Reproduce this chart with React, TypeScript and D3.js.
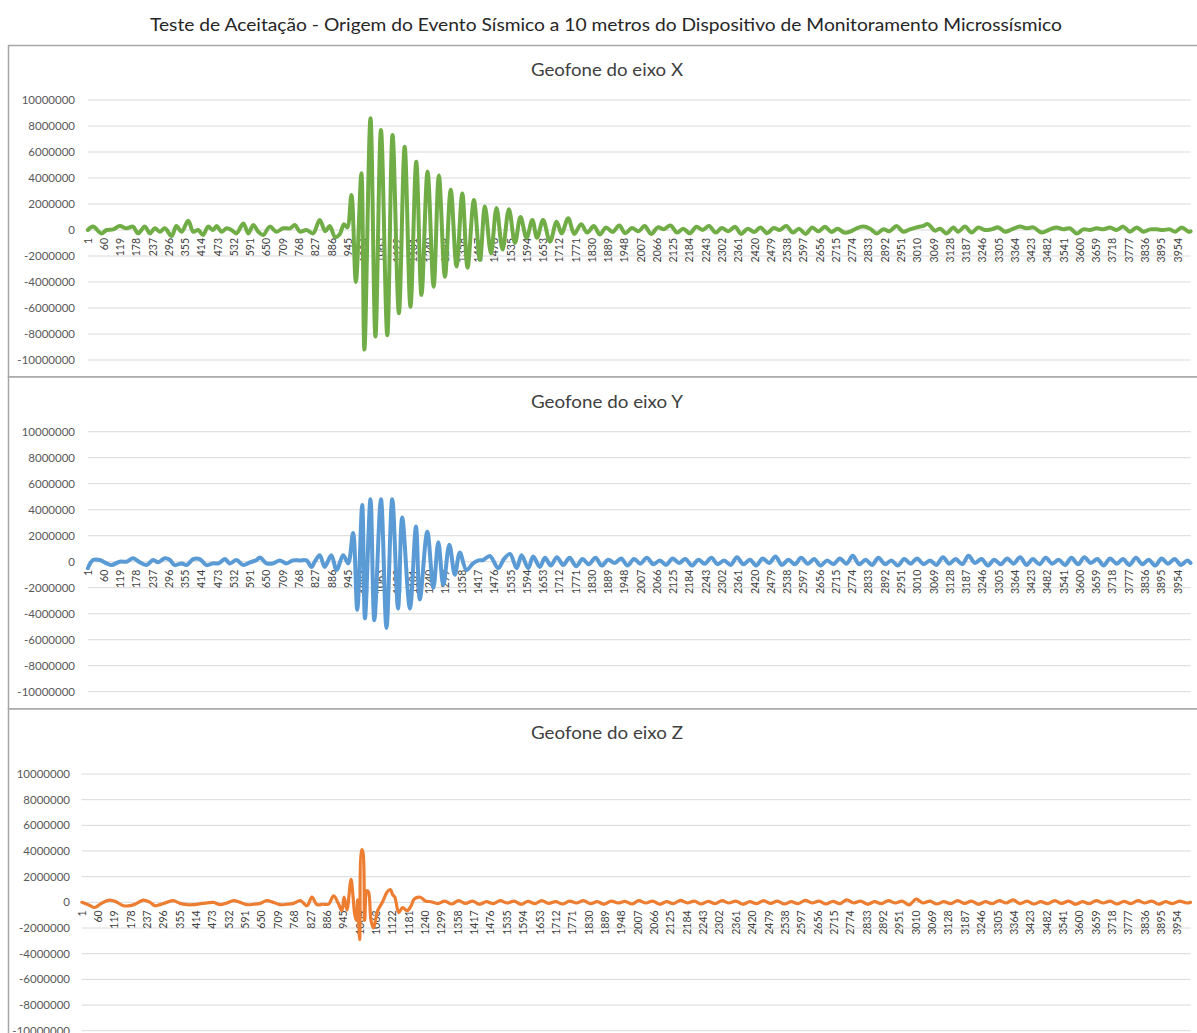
import * as d3 from "d3";

const WIDTH = 1197;
const HEIGHT = 1033;
const MILLION = 1000000;

const chartTitle =
  "Teste de Aceitação - Origem do Evento Sísmico a 10 metros do Dispositivo de Monitoramento Microssísmico";
const panelTitles = ["Geofone do eixo X", "Geofone do eixo Y", "Geofone do eixo Z"];
const sampleCount = 4000;

const categoryLabels = [
  "1", "60", "119", "178", "237", "296", "355", "414", "473", "532", "591", "650", "709", "768",
  "827", "886", "945", "1004", "1063", "1122", "1181", "1240", "1299", "1358", "1417", "1476",
  "1535", "1594", "1653", "1712", "1771", "1830", "1889", "1948", "2007", "2066", "2125", "2184",
  "2243", "2302", "2361", "2420", "2479", "2538", "2597", "2656", "2715", "2774", "2833", "2892",
  "2951", "3010", "3069", "3128", "3187", "3246", "3305", "3364", "3423", "3482", "3541", "3600",
  "3659", "3718", "3777", "3836", "3895", "3954"
];

const yTicks = [
  10000000, 8000000, 6000000, 4000000, 2000000, 0, -2000000, -4000000, -6000000, -8000000, -10000000
];

// [amostra, amplitude em milhões]
const eixoX: [number, number][] = [
  [1, 0], [20, 0.26], [50, -0.26], [69, 0], [93, 0.05], [117, 0.3], [141, 0.13], [165, 0.26],
  [183, -0.26], [208, 0.26], [226, -0.26], [244, 0.13], [262, -0.13], [280, 0.13], [305, -0.46],
  [322, 0.3], [341, -0.13], [365, 0.72], [383, -0.13], [401, 0], [419, -0.38], [437, 0.26],
  [455, 0], [468, 0.3], [486, -0.13], [504, 0.13], [522, 0], [540, -0.26], [565, 0.5],
  [583, -0.26], [601, 0.38], [619, -0.13], [637, -0.38], [661, 0.26], [685, -0.13], [709, 0.13],
  [734, 0.13], [752, 0.38], [770, -0.13], [794, 0], [818, -0.26], [842, 0.77], [862, -0.1],
  [878, 0.3], [898, -0.55], [915, -0.3], [930, 0.45], [942, 0.2], [957, 2.7], [973, -4.0],
  [993, 4.36], [1004, -9.2], [1026, 8.6], [1044, -8.2], [1064, 7.7], [1087, -8.1], [1106, 7.3],
  [1129, -6.4], [1150, 6.4], [1171, -5.9], [1192, 5.25], [1211, -5.0], [1233, 4.5], [1255, -4.36],
  [1274, 4.2], [1296, -3.6], [1317, 3.1], [1338, -2.8], [1359, 2.8], [1378, -2.9], [1401, 2.3],
  [1423, -2.3], [1441, 1.8], [1463, -1.8], [1483, 1.7], [1505, -1.5], [1528, 1.6], [1550, -1.0],
  [1570, 1.0], [1592, -0.6], [1613, 0.77], [1630, -0.6], [1652, 0.77], [1677, -0.9], [1701, 0.64],
  [1719, -0.26], [1743, 0.9], [1765, -0.3], [1790, 0.45], [1812, -0.2], [1836, 0.3], [1858, -0.35],
  [1880, 0.2], [1904, -0.15], [1928, 0.35], [1950, -0.25], [1974, 0.15], [1998, -0.1], [2020, 0.3],
  [2044, -0.3], [2068, 0.2], [2090, 0.05], [2114, 0.35], [2138, -0.2], [2160, 0.1], [2184, -0.25],
  [2208, 0.25], [2230, 0.0], [2254, 0.3], [2278, -0.2], [2300, 0.15], [2324, -0.1], [2348, 0.25],
  [2370, -0.3], [2394, 0.1], [2418, -0.15], [2440, 0.2], [2464, -0.25], [2488, 0.15], [2510, 0.0],
  [2534, 0.3], [2558, -0.2], [2580, 0.1], [2604, -0.3], [2628, 0.2], [2650, -0.1], [2674, 0.25],
  [2698, -0.15], [2720, 0.1], [2744, -0.2], [2765, -0.13], [2789, 0.13], [2813, 0.26], [2838, 0.1],
  [2862, -0.26], [2886, 0.05], [2908, -0.1], [2934, 0.3], [2958, -0.13], [2982, 0.05], [3007, 0.2],
  [3028, 0.3], [3048, 0.45], [3073, -0.05], [3092, 0.1], [3115, -0.26], [3140, 0.2], [3157, -0.13],
  [3182, 0.26], [3206, -0.2], [3230, 0.2], [3254, 0], [3278, 0.05], [3303, 0.2], [3327, -0.13],
  [3352, 0.05], [3381, 0.26], [3405, 0.13], [3430, 0.2], [3460, -0.2], [3490, 0.05], [3514, 0.2],
  [3538, 0.05], [3562, 0.13], [3587, -0.26], [3611, 0.05], [3635, 0], [3660, 0.13], [3684, 0.05],
  [3708, 0.2], [3732, 0], [3756, 0.26], [3780, -0.13], [3805, 0.2], [3829, -0.13], [3853, 0.05],
  [3877, 0.05], [3901, 0], [3925, 0.05], [3944, -0.13], [3968, 0.2], [3992, -0.13], [4000, -0.1]
];

const eixoY: [number, number][] = [
  [1, -0.5], [20, 0.13], [44, 0.13], [69, -0.13], [87, -0.26], [117, 0], [141, 0], [165, 0.26],
  [190, -0.05], [214, -0.26], [238, 0.13], [256, -0.05], [280, 0.26], [298, 0.15], [316, -0.26],
  [341, -0.13], [359, -0.26], [383, 0.2], [407, 0.2], [431, -0.26], [455, -0.13], [475, -0.13],
  [498, 0.2], [516, -0.13], [540, 0.13], [565, -0.26], [589, -0.05], [613, 0.13], [625, 0.33],
  [649, -0.13], [673, -0.13], [697, 0.1], [721, -0.13], [745, 0.1], [770, 0.1], [794, 0.1],
  [812, -0.4], [824, 0], [842, 0.5], [860, -0.4], [884, 0.5], [903, -0.64], [927, 0.5],
  [945, -0.13], [963, 2.2], [978, -3.7], [996, 4.36], [1006, -4.36], [1026, 4.8], [1040, -4.5],
  [1064, 4.8], [1084, -5.1], [1105, 4.8], [1126, -3.6], [1141, 3.4], [1169, -3.6], [1191, 2.7],
  [1205, -2.9], [1232, 2.3], [1254, -2.0], [1272, 1.5], [1290, -1.8], [1312, 1.3], [1332, -1.0],
  [1350, 0.7], [1374, -0.64], [1398, -0.13], [1418, 0.1], [1435, 0.13], [1459, 0.44], [1489, -0.5],
  [1510, 0.2], [1532, 0.6], [1556, -0.5], [1574, 0.5], [1598, -0.5], [1616, 0.4], [1640, -0.4],
  [1659, 0.3], [1680, -0.3], [1702, 0.35], [1725, -0.25], [1748, 0.3], [1772, -0.35], [1795, 0.2],
  [1818, -0.2], [1842, 0.3], [1865, -0.3], [1888, 0.15], [1912, -0.1], [1935, 0.25], [1958, -0.3],
  [1982, 0.2], [2005, -0.15], [2028, 0.3], [2052, -0.2], [2075, 0.1], [2098, -0.25], [2122, 0.25],
  [2145, -0.1], [2168, 0.2], [2192, -0.3], [2215, 0.15], [2238, -0.15], [2262, 0.3], [2285, -0.2],
  [2308, 0.1], [2332, -0.25], [2355, 0.35], [2378, -0.2], [2402, 0.15], [2425, -0.3], [2448, 0.25],
  [2472, -0.1], [2495, 0.4], [2518, -0.25], [2542, 0.15], [2565, -0.2], [2588, 0.3], [2612, -0.15],
  [2635, 0.2], [2658, -0.3], [2682, 0.1], [2705, -0.2], [2728, 0.25], [2752, -0.15], [2775, 0.45],
  [2798, -0.2], [2822, 0.15], [2845, -0.25], [2868, 0.3], [2892, -0.2], [2915, 0.1], [2938, -0.3],
  [2962, 0.2], [2985, -0.15], [3008, 0.25], [3032, -0.2], [3055, 0.1], [3078, -0.25], [3102, 0.35],
  [3125, -0.15], [3148, 0.2], [3172, -0.2], [3195, 0.45], [3218, -0.1], [3242, 0.2], [3265, -0.3],
  [3288, 0.15], [3312, -0.2], [3335, 0.25], [3358, -0.15], [3382, 0.35], [3405, -0.25], [3428, 0.2],
  [3452, -0.2], [3475, 0.3], [3498, -0.15], [3522, 0.15], [3545, -0.25], [3568, 0.3], [3592, -0.2],
  [3615, 0.35], [3638, -0.1], [3662, 0.2], [3685, -0.3], [3708, 0.25], [3732, -0.15], [3755, 0.2],
  [3778, -0.25], [3802, 0.3], [3825, -0.2], [3848, 0.15], [3872, -0.3], [3895, 0.25], [3918, -0.15],
  [3942, 0.2], [3965, -0.25], [3988, 0.1], [4000, -0.1]
];

const eixoZ: [number, number][] = [
  [1, 0], [26, -0.2], [48, -0.4], [70, -0.1], [91, 0.13], [103, 0.18], [121, 0.08], [151, -0.26],
  [175, -0.26], [199, -0.08], [223, 0.18], [247, 0], [265, -0.26], [283, -0.18], [307, 0],
  [331, 0.13], [355, -0.08], [380, -0.18], [403, -0.18], [430, -0.1], [452, -0.05], [476, 0],
  [500, -0.18], [524, -0.05], [548, 0.13], [572, 0], [596, -0.18], [620, -0.15], [644, -0.08],
  [668, 0.13], [692, 0], [716, -0.18], [740, -0.15], [764, -0.08], [789, 0.13], [813, -0.26],
  [831, 0.4], [849, -0.18], [870, -0.15], [891, -0.13], [909, 0.5], [927, -0.13], [939, -0.65],
  [947, 0.4], [957, -0.6], [972, 1.8], [979, 0.5], [985, -0.9], [991, -1.4], [996, 0.2],
  [1003, -2.9], [1010, 4.1], [1015, 3.9], [1021, -1.4], [1029, 0.9], [1035, 0.8], [1044, -1.4],
  [1053, -2.0], [1068, -0.65], [1085, 0], [1102, 0.8], [1114, 1.0], [1122, 0.6], [1130, 0.4],
  [1144, -0.8], [1158, -0.4], [1174, -0.65], [1188, -0.3], [1200, 0.26], [1222, 0.4], [1240, 0.1],
  [1260, 0.05], [1285, -0.1], [1310, 0.1], [1335, -0.13], [1360, 0.13], [1385, -0.08], [1410, 0.1],
  [1435, -0.15], [1460, 0.05], [1485, -0.1], [1510, 0.13], [1535, -0.05], [1560, 0.1], [1585, -0.15],
  [1610, 0.08], [1635, -0.1], [1660, 0.13], [1685, -0.08], [1710, 0.05], [1735, -0.13], [1760, 0.1],
  [1785, -0.05], [1810, 0.13], [1835, -0.1], [1860, 0.05], [1885, -0.15], [1910, 0.1], [1935, -0.05],
  [1960, 0.08], [1985, -0.13], [2010, 0.13], [2035, -0.05], [2060, 0.1], [2085, -0.15], [2110, 0.05],
  [2135, -0.1], [2160, 0.15], [2185, -0.05], [2210, 0.1], [2235, -0.13], [2260, 0.08], [2285, -0.1],
  [2310, 0.13], [2335, -0.05], [2360, 0.1], [2385, -0.15], [2410, 0.05], [2435, -0.1], [2460, 0.13],
  [2485, -0.08], [2510, 0.1], [2535, -0.13], [2560, 0.05], [2585, -0.1], [2610, 0.15], [2635, -0.05],
  [2660, 0.1], [2685, -0.13], [2710, 0.08], [2735, -0.1], [2760, 0.2], [2785, -0.05], [2810, 0.1],
  [2835, -0.15], [2860, 0.05], [2885, -0.1], [2910, 0.13], [2935, -0.05], [2960, 0.1], [2985, -0.2],
  [3010, 0.25], [3035, -0.05], [3060, 0.1], [3085, -0.13], [3110, 0.05], [3135, -0.1], [3160, 0.13],
  [3185, -0.08], [3210, 0.1], [3235, -0.15], [3260, 0.05], [3285, -0.1], [3310, 0.13], [3335, -0.05],
  [3360, 0.2], [3385, -0.1], [3410, 0.1], [3435, -0.13], [3460, 0.05], [3485, -0.1], [3510, 0.13],
  [3535, -0.08], [3560, 0.1], [3585, -0.15], [3610, 0.05], [3635, -0.1], [3660, 0.13], [3685, -0.05],
  [3710, 0.1], [3735, -0.13], [3760, 0.08], [3785, -0.1], [3810, 0.13], [3835, -0.05], [3860, 0.1],
  [3885, -0.15], [3910, 0.05], [3935, -0.1], [3960, 0.1], [3985, -0.05], [4000, 0]
];

const seriesData = [eixoX, eixoY, eixoZ];
const seriesColors = ["#70AD47", "#5B9BD5", "#ED7D31"];
const seriesWidths = [4, 4, 3.2];

// layout of the three stacked chart boxes
const layout = [
  { top: 45.5, bottom: 377, titleY: 76, yTop: 100, yBottom: 360, left: 87.7, labelRight: 75 },
  { top: 377, bottom: 709, titleY: 408, yTop: 431.7, yBottom: 691.7, left: 87.7, labelRight: 75 },
  { top: 709, bottom: 1045, titleY: 739, yTop: 774, yBottom: 1030.7, left: 81.7, labelRight: 70 }
];
const plotRight = 1190.7;
const FONT = "Lato, 'Open Sans', sans-serif";

function Panel({ index }: { index: number }) {
  const g = layout[index];
  const data = seriesData[index];
  const x = d3.scaleLinear([0.5, sampleCount + 0.5], [g.left, plotRight]);
  const y = d3.scaleLinear([-10000000, 10000000], [g.yBottom, g.yTop]);
  const line = d3
    .line<[number, number]>()
    .x((d) => x(d[0]))
    .y((d) => y(d[1] * MILLION))
    .curve(d3.curveCatmullRom.alpha(0.5));

  return (
    <g>
      <rect x={8.5} y={g.top} width={1210} height={g.bottom - g.top} fill="#fff" stroke="#a6a6a6" strokeWidth={1.5} />
      <text x={607} y={g.titleY} textAnchor="middle" fontSize={16.5} fill="#404040" fontFamily={FONT} textLength={152} lengthAdjust="spacingAndGlyphs">
        {panelTitles[index]}
      </text>
      {yTicks.map((t) => (
        <g key={t}>
          <line x1={g.left} x2={plotRight} y1={y(t)} y2={y(t)} stroke="#d9d9d9" strokeWidth={1} />
          <text x={g.labelRight} y={y(t)} dy="0.35em" textAnchor="end" fontSize={11.5} fill="#595959" fontFamily={FONT}>
            {t}
          </text>
        </g>
      ))}
      {categoryLabels.map((c) => (
        <text
          key={c}
          transform={`translate(${x(+c)},${y(0) + 8}) rotate(-90)`}
          dy="0.35em"
          textAnchor="end"
          fontSize={10.5}
          fill="#404040"
          fontFamily={FONT}
        >
          {c}
        </text>
      ))}
      <path d={line(data) || ""} fill="none" stroke={seriesColors[index]} strokeWidth={seriesWidths[index]} strokeLinejoin="round" strokeLinecap="round" />
    </g>
  );
}

export default function App() {
  return (
    <svg
      width={WIDTH}
      height={HEIGHT}
      style={{ position: "absolute", left: 0, top: 0, background: "#fff" }}
    >
      <rect width={WIDTH} height={HEIGHT} fill="#fff" />
      <text x={606} y={31} textAnchor="middle" fontSize={17.5} fill="#262626" fontFamily={FONT} textLength={912} lengthAdjust="spacingAndGlyphs">
        {chartTitle}
      </text>
      {panelTitles.map((_, i) => (
        <Panel key={i} index={i} />
      ))}
    </svg>
  );
}
